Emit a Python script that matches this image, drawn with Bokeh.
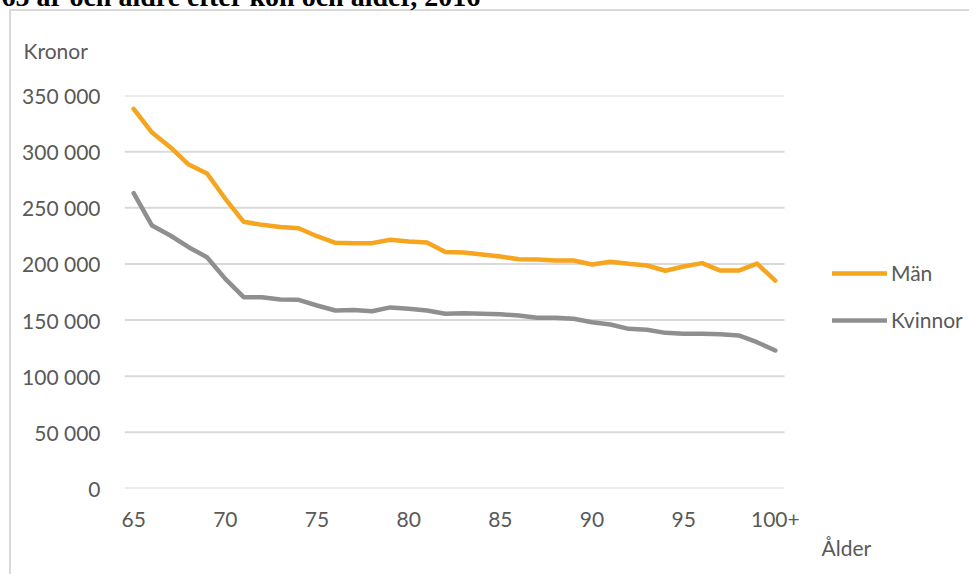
from bokeh.plotting import figure
from bokeh.models import Range1d, FixedTicker, Legend, LegendItem, Title
from bokeh.embed import file_html
from bokeh.resources import INLINE

# ---- data ----
ages = [str(a) for a in range(65, 100)] + ["100+"]
man = [338000, 317000, 304000, 288500, 280500, 258000, 237500, 234800, 232800, 231800,
       224700, 218800, 218500, 218500, 221500, 220000, 219000, 210700, 210200, 208400,
       206600, 204200, 203900, 203000, 203000, 199500, 202000, 200100, 198600, 193900,
       197700, 200700, 194100, 194100, 200300, 185200]
kvinnor = [263000, 234200, 225300, 214900, 206000, 186700, 170400, 170400, 168300, 168000,
           163000, 158500, 159000, 157900, 161300, 160000, 158500, 155600, 156100, 155600,
           155200, 154100, 152000, 152000, 151100, 148100, 146000, 142200, 141300, 138600,
           137800, 137800, 137400, 136300, 130300, 122900]
y_ticks = [0, 50000, 100000, 150000, 200000, 250000, 300000, 350000]
y_tick_labels = ["0", "50 000", "100 000", "150 000", "200 000", "250 000", "300 000", "350 000"]
series_names = ["Män", "Kvinnor"]
title_text = "65 år och äldre efter kön och ålder, 2016"
y_title = "Kronor"
x_title = "Ålder"

FONT = "Lato"
TXT = "#595959"
ORANGE = "#F5A51E"
GREY = "#8F8F8F"
GRID = "#d9d9d9"

W, H = 969, 574
LEFT, TOP, BOTTOM = 124, 95, 488
PLOT_W = 660                     # width of the category area
n = len(ages)
x = list(range(n))
x_end = -0.5 + n * (W - LEFT) / PLOT_W   # frame extends right to hold the legend

p = figure(width=W, height=H, output_backend="svg", toolbar_location=None,
           x_range=Range1d(-0.5, x_end), y_range=Range1d(0, 350000),
           min_border_left=LEFT, min_border_right=0, min_border_top=TOP,
           min_border_bottom=H - BOTTOM)
p.outline_line_color = None
p.background_fill_color = "white"
p.border_fill_alpha = 0
p.styles = {
    "background-color": "white",
    "background-image": "linear-gradient(#d9d9d9, #d9d9d9), linear-gradient(#d9d9d9, #d9d9d9)",
    "background-size": "2px 100%, 100% 2px",
    "background-position": "9px 9px, 9px 9px",
    "background-repeat": "no-repeat",
}

# horizontal gridlines over the category area only
p.segment(x0=[-0.5] * len(y_ticks), x1=[n - 0.5] * len(y_ticks), y0=y_ticks, y1=y_ticks,
          line_color=GRID, line_width=2)
p.xgrid.visible = False
p.ygrid.visible = False

r_man = p.line(x, man, line_color=ORANGE, line_width=4.5, line_join="round", line_cap="round")
r_kv = p.line(x, kvinnor, line_color=GREY, line_width=4.5, line_join="round", line_cap="round")

# axes
xt = [i for i in x if i % 5 == 0]
p.xaxis.ticker = FixedTicker(ticks=xt)
p.xaxis.major_label_overrides = {i: ages[i] for i in xt}
p.yaxis.ticker = FixedTicker(ticks=y_ticks)
p.yaxis.major_label_overrides = dict(zip(y_ticks, y_tick_labels))
for ax in (p.xaxis[0], p.yaxis[0]):
    ax.axis_line_color = None
    ax.major_tick_line_color = None
    ax.minor_tick_line_color = None
    ax.major_tick_out = 0
    ax.major_tick_in = 0
    ax.minor_tick_out = 0
    ax.major_label_text_font = FONT
    ax.major_label_text_font_size = "21px"
    ax.major_label_text_color = TXT
p.xaxis.major_label_standoff = 23
p.yaxis.major_label_standoff = 24

# axis titles and (cut-off) chart title as panel titles
p.add_layout(Title(text=y_title, align="left", offset=-101, standoff=66,
                   vertical_align="bottom", text_font=FONT, text_font_size="21px",
                   text_color=TXT, text_font_style="normal"), "above")
p.add_layout(Title(text=title_text + "\n", align="left", offset=-123, standoff=-44,
                   vertical_align="top", text_line_height=0.34,
                   text_font="Liberation Serif", text_font_size="28px",
                   text_color="black", text_font_style="bold"), "above")
p.add_layout(Title(text=x_title, align="left", offset=697, standoff=11,
                   vertical_align="top", text_font=FONT, text_font_size="21px",
                   text_color=TXT, text_font_style="normal"), "below")

# legend inside the (extended) frame
legend = Legend(items=[LegendItem(label=series_names[0], renderers=[r_man]),
                       LegendItem(label=series_names[1], renderers=[r_kv])],
                location=(708, 156), orientation="vertical",
                glyph_width=55, glyph_height=24, label_height=24, spacing=22,
                padding=0, margin=0, label_standoff=4,
                label_text_font=FONT, label_text_font_size="21px", label_text_color=TXT,
                border_line_color=None, background_fill_alpha=0)
p.add_layout(legend)

open("out.html", "w").write(file_html(p, INLINE))
